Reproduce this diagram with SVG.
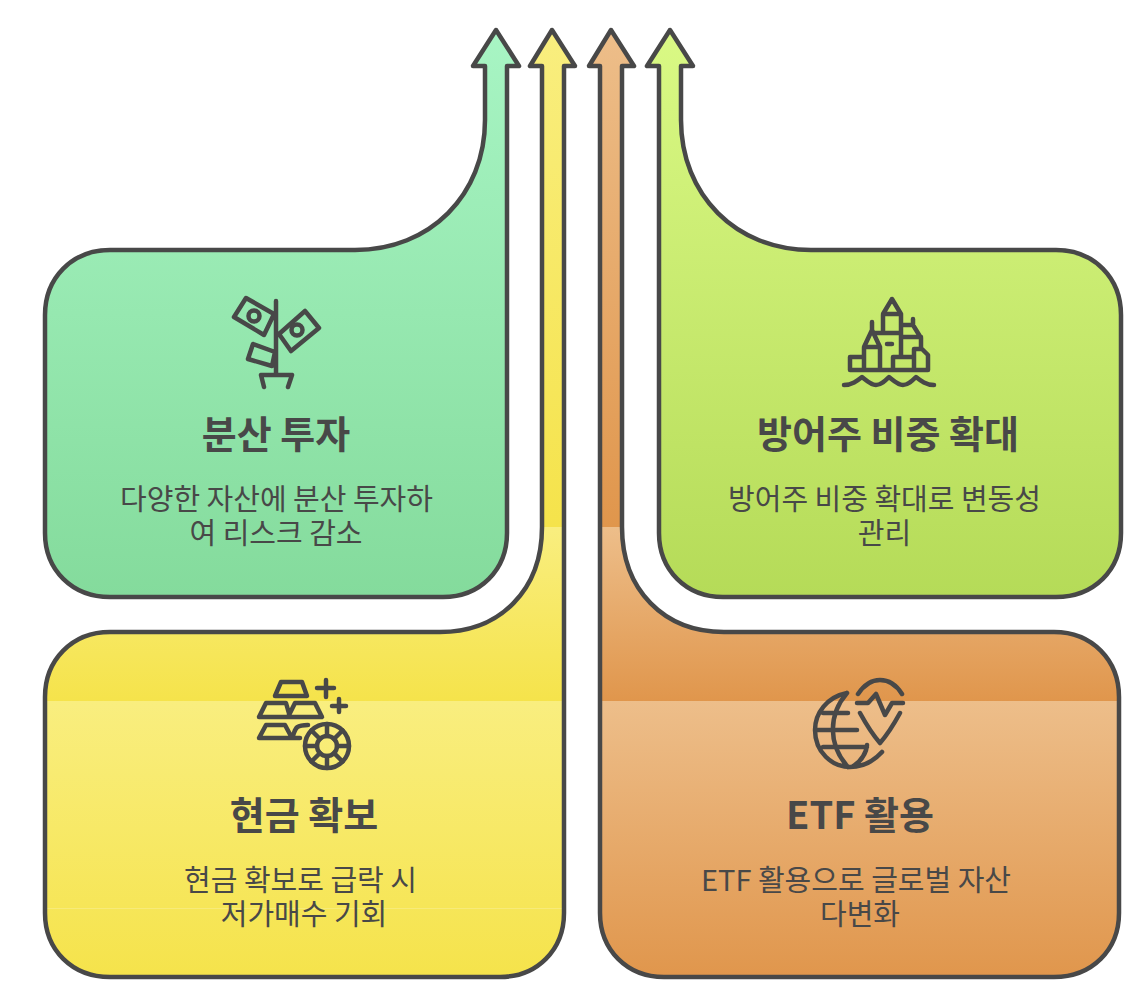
<svg xmlns="http://www.w3.org/2000/svg" width="1143" height="1004" viewBox="0 0 1143 1004">
<style>
.o{stroke:#484848;stroke-width:4.500;stroke-linejoin:round;stroke-linecap:round}
.i{fill:none;stroke:#484848;stroke-width:4.500;stroke-linejoin:round;stroke-linecap:round}
text{font-family:"Noto Sans CJK KR","Noto Sans",sans-serif;fill:#484848;text-anchor:middle}
.t{font-size:38px;font-weight:700}
.d{font-size:29px}
</style>
<defs>
<linearGradient id="gA" x1="0" y1="30" x2="0" y2="597" gradientUnits="userSpaceOnUse"><stop offset="0" stop-color="#A8F5C4"/><stop offset="1" stop-color="#84DB9C"/></linearGradient>
<linearGradient id="gD" x1="0" y1="30" x2="0" y2="597" gradientUnits="userSpaceOnUse"><stop offset="0" stop-color="#DAF985"/><stop offset="1" stop-color="#B5DB58"/></linearGradient>
<linearGradient id="gY1" x1="0" y1="30" x2="0" y2="527" gradientUnits="userSpaceOnUse"><stop offset="0" stop-color="#F9EE7F"/><stop offset="1" stop-color="#F5E34B"/></linearGradient>
<linearGradient id="gY2" x1="0" y1="527" x2="0" y2="701" gradientUnits="userSpaceOnUse"><stop offset="0" stop-color="#F9EE7F"/><stop offset="1" stop-color="#F5E34B"/></linearGradient>
<linearGradient id="gY3" x1="0" y1="701" x2="0" y2="978" gradientUnits="userSpaceOnUse"><stop offset="0" stop-color="#F9EE7F"/><stop offset="1" stop-color="#F5E34B"/></linearGradient>
<linearGradient id="gO1" x1="0" y1="30" x2="0" y2="527" gradientUnits="userSpaceOnUse"><stop offset="0" stop-color="#EDBE8A"/><stop offset="1" stop-color="#E0964C"/></linearGradient>
<linearGradient id="gO2" x1="0" y1="527" x2="0" y2="701" gradientUnits="userSpaceOnUse"><stop offset="0" stop-color="#EDBE8A"/><stop offset="1" stop-color="#E0964C"/></linearGradient>
<linearGradient id="gO3" x1="0" y1="701" x2="0" y2="978" gradientUnits="userSpaceOnUse"><stop offset="0" stop-color="#EDBE8A"/><stop offset="1" stop-color="#E0964C"/></linearGradient>
<clipPath id="c1"><rect x="0" y="0" width="1143" height="527"/></clipPath>
<clipPath id="c2"><rect x="0" y="527" width="1143" height="174"/></clipPath>
<clipPath id="c5"><rect x="0" y="701" width="1143" height="303"/></clipPath>
<path id="py" d="M542 66V527C542 590 500 632 440 632H110C72 632 45 660 45 697V913C45 950 72 977 110 977H500C537 977 564 950 564 913V66H575L552 30L530 66Z"/>
<path id="po" d="M622 66V527C622 590 664 632 724 632H1054C1092 632 1119 660 1119 697V913C1119 950 1092 977 1054 977H664C627 977 600 950 600 913V66H589L611 30L634 66Z"/>
</defs>
<g id="node-yellow">
<use href="#py" fill="url(#gY1)" clip-path="url(#c1)"/>
<use href="#py" fill="url(#gY2)" clip-path="url(#c2)"/>
<use href="#py" fill="url(#gY3)" clip-path="url(#c5)"/>
<rect x="47" y="908" width="515" height="1" fill="#fff" opacity=".2"/>
<use href="#py" class="o" fill="none"/>
<g class="ic"><path class="i" d="M281 682H302L307 696H275ZM266 703H286L290 717H259ZM295 703H315L322 717H288ZM266 725H285L292 738H259ZM292 738H300M292 738C296 730 293 725 308 725M326 680V697M317 688H334M339 699V712M332 706H346"/><circle class="i" cx="327" cy="746" r="22"/><circle class="i" cx="327" cy="746" r="10"/><path class="i" d="M327 724V736M327 756V768M305 746H317M337 746H349M311.500 730.500L320 739M334 753L342.500 761.500M342.500 730.500L334 739M320 753L311.500 761.500"/></g>
<text class="t" x="304" y="829">현금 확보</text>
<text class="d" x="300.500" y="891">현금 확보로 급락 시</text>
<text class="d" x="304" y="925">저가매수 기회</text>
</g>
<g id="node-orange">
<use href="#po" fill="url(#gO1)" clip-path="url(#c1)"/>
<use href="#po" fill="url(#gO2)" clip-path="url(#c2)"/>
<use href="#po" fill="url(#gO3)" clip-path="url(#c5)"/>
<use href="#po" class="o" fill="none"/>
<g class="ic"><path class="i" d="M847 693C827 697 815 713 815 730C815 752 832 767 850 767C862 767 873 762 882 752M823 713H848M817 730H857M823 747H867M847 693C828 715 828 745 848 767M867 745C866 755 860 762 852 767M858 694C864 685 872 680 880 680C889 680 897 686 902 694M857 703H868L876 694L885 715L892 703H903M860 713C866 724 873 735 880 743C887 735 894 724 900 713"/></g>
<text class="t" x="860" y="829">ETF 활용</text>
<text class="d" x="856" y="891">ETF 활용으로 글로벌 자산</text>
<text class="d" x="860" y="925">다변화</text>
</g>
<g id="node-green">
<path class="o" fill="url(#gA)" d="M485 66H473L496 30L519 66H507V533C507 570 480 597 443 597H110C72 597 45 570 45 533V315C45 278 72 250 110 250H355C430 250 485 195 485 120Z"/>
<g class="ic"><path class="i" d="M276 301V374M246 298L274 314L264 335L234 317ZM305 311L319 328L291 351L279 334ZM253 344L275 352L272 366L248 359ZM261 375H292M261 375L264 387M292 375L288 387"/><circle class="i" cx="254" cy="316" r="5.500"/><circle class="i" cx="297" cy="330" r="5.500"/></g>
<text class="t" x="276" y="448">분산 투자</text>
<text class="d" x="276.500" y="510">다양한 자산에 분산 투자하</text>
<text class="d" x="276" y="544">여 리스크 감소</text>
</g>
<g id="node-lime">
<path class="o" fill="url(#gD)" d="M681 66H693L670 30L647 66H659V533C659 570 686 597 723 597H1056C1094 597 1121 570 1121 533V315C1121 278 1094 250 1056 250H811C736 250 681 195 681 120Z"/>
<g class="ic"><path class="i" d="M892 299L883 314H901ZM883 314V333M901 314V357M872 322V333H901M872 330L864 347H880ZM864 347V370M880 347V370M850 357H864M850 357V370M850 370H928M901 325H913L921 338V349M913 319V325M901 337H921M893 357H913M893 357V370M914 349V370M914 349H922L928 355V370M887 344H892M844 385C852 385 857 381 862 377C867 381 871 385 876 385C881 385 885 381 889 377C894 381 898 385 903 385C908 385 912 381 916 377C921 381 926 385 934 385"/></g>
<text class="t" x="888" y="448">방어주 비중 확대</text>
<text class="d" x="884.500" y="510">방어주 비중 확대로 변동성</text>
<text class="d" x="884.500" y="544">관리</text>
</g>
<g id="connectors"></g>
</svg>
